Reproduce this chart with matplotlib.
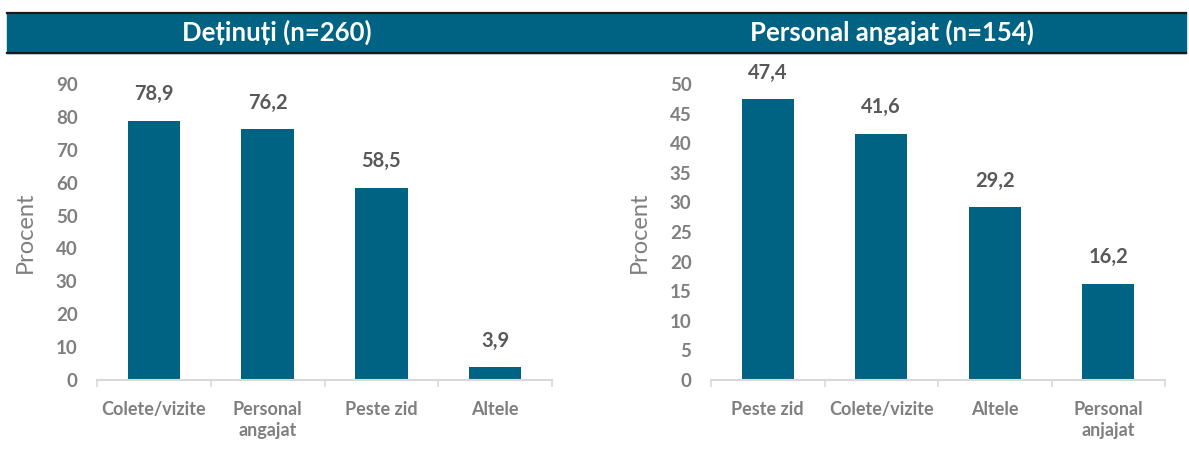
import matplotlib
matplotlib.use("Agg")
import matplotlib.pyplot as plt
from matplotlib.patches import Rectangle
from matplotlib.lines import Line2D

plt.rcParams["font.family"] = ["Lato", "DejaVu Sans"]

# ── date ──
left_title = "Deținuți (n=260)"
left_cats = ["Colete/vizite", "Personal\nangajat", "Peste zid", "Altele"]
left_vals = [78.9, 76.2, 58.5, 3.9]
left_ticks = [0, 10, 20, 30, 40, 50, 60, 70, 80, 90]

right_title = "Personal angajat (n=154)"
right_cats = ["Peste zid", "Colete/vizite", "Altele", "Personal\nanjajat"]
right_vals = [47.4, 41.6, 29.2, 16.2]
right_ticks = [0, 5, 10, 15, 20, 25, 30, 35, 40, 45, 50]

BAR = "#006384"
HEAD = "#006384"
TICK_C = "#7f7f7f"
VAL_C = "#595959"
W, H = 1189, 461

fig = plt.figure(figsize=(W / 100, H / 100), dpi=100)


def fx(px):
    return px / W


def fy(py):
    return 1 - py / H


# bandă de titlu
fig.patches.append(Rectangle((fx(7), fy(53)), fx(1186 - 7), fy(13) - fy(53),
                             transform=fig.transFigure, color=HEAD, zorder=0))
for yy in (13, 53):
    fig.lines.append(Line2D([fx(7), fx(1186)], [fy(yy), fy(yy)],
                            transform=fig.transFigure, color="#1a1a1a", lw=1.6))


def panel(rect, cats, vals, ticks, title, title_x):
    ax = fig.add_axes(rect)
    x = list(range(len(cats)))
    ax.bar(x, vals, width=0.46, color=BAR, zorder=2)
    ax.set_xlim(-0.5, len(cats) - 0.5)
    ax.set_ylim(0, ticks[-1])
    ax.set_yticks(ticks)
    ax.set_xticks(x)
    ax.set_xticklabels(cats, fontsize=13, fontweight="bold", color=TICK_C,
                       linespacing=1.3)
    ax.set_xticks([i - 0.5 for i in range(len(cats) + 1)], minor=True)
    for lab in ax.get_yticklabels():
        lab.set_fontweight("bold")
        lab.set_color(TICK_C)
        lab.set_fontsize(13.5)
        lab.set_va("center_baseline")
    ax.tick_params(axis="x", which="major", length=0, pad=15)
    ax.tick_params(axis="x", which="minor", length=5, color="#d9d9d9", width=1.2)
    ax.tick_params(axis="y", length=0, pad=14)
    for s in ("top", "right", "left"):
        ax.spines[s].set_visible(False)
    ax.spines["bottom"].set_color("#d9d9d9")
    ax.spines["bottom"].set_linewidth(1.5)
    ax.set_ylabel("Procent", fontsize=17, color=TICK_C, labelpad=14)
    for xi, v in zip(x, vals):
        ax.annotate(f"{v:.1f}".replace(".", ","), (xi, v), xytext=(0, 12),
                    textcoords="offset points", ha="center", va="bottom",
                    fontsize=14.5, fontweight="bold", color=VAL_C)
    fig.text(fx(title_x), fy(32), title, color="white", fontsize=18.5,
             fontweight="bold", ha="center", va="center")
    return ax


panel([fx(97), fy(380), fx(552 - 97), fy(84) - fy(380)],
      left_cats, left_vals, left_ticks, left_title, 277)
panel([fx(711), fy(380), fx(1165 - 711), fy(84) - fy(380)],
      right_cats, right_vals, right_ticks, right_title, 892)

fig.savefig("out.png", dpi=100)
